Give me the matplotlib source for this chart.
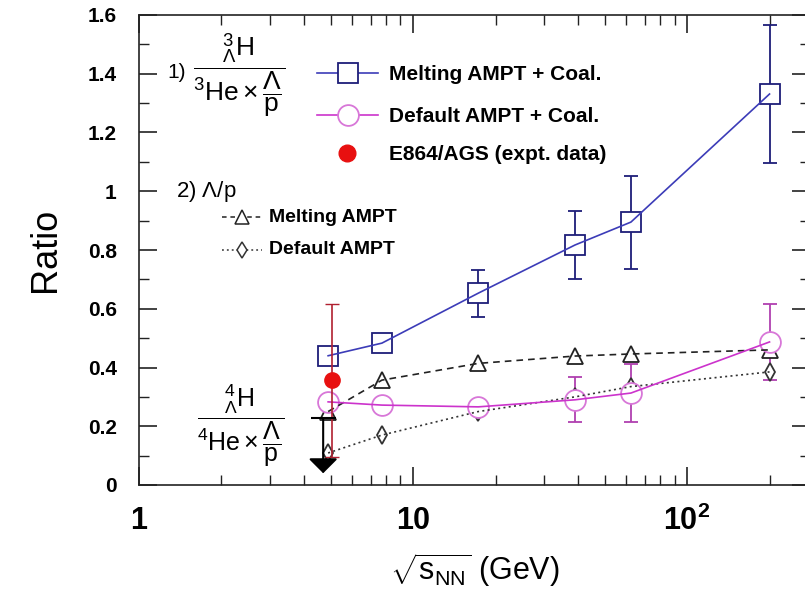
import numpy as np
import matplotlib
matplotlib.use('Agg')
import matplotlib.pyplot as plt
from matplotlib.ticker import FixedLocator, FuncFormatter, LogLocator, MultipleLocator

plt.rcParams['font.family'] = ['Liberation Sans', 'DejaVu Sans']
plt.rcParams['mathtext.fontset'] = 'custom'
plt.rcParams['mathtext.rm'] = 'Liberation Sans'
plt.rcParams['mathtext.it'] = 'Liberation Sans:italic'
plt.rcParams['mathtext.bf'] = 'Liberation Sans:bold'

# collision energies (GeV)
energy = [4.9, 7.7, 17.3, 39, 62.4, 200]

# 3ΛH / (3He x Λ/p)
melt_coal = [0.44, 0.483, 0.653, 0.817, 0.895, 1.331]
melt_coal_err = [0, 0, 0.08, 0.115, 0.158, 0.235]
def_coal = [0.283, 0.272, 0.266, 0.29, 0.313, 0.487]
def_coal_err = [0, 0, 0, 0.077, 0.10, 0.128]

# E864/AGS data point
e864_x = [5.08]
e864_y = [0.357]
e864_err = [0.26]

# 4ΛH upper limit
lim_x = [4.7]
lim_top = [0.228]
lim_bottom = [0.04]

# Λ/p
melt_lp = [0.25, 0.357, 0.414, 0.439, 0.446, 0.46]
def_lp = [0.109, 0.17, 0.25, 0.30, 0.335, 0.385]

blue_line = '#3c3cb8'
blue_mk = '#1e1e78'
mag_line = '#cc33cc'
mag_mk = '#d877d8'
red = '#e81010'

fig = plt.figure(figsize=(8.05, 5.89), dpi=100)
ax = fig.add_axes([139 / 805, 104 / 589, 671 / 805, 470 / 589])

x = np.array(energy)

def draw_series(y, err, line_col, mk_col, marker, ms, ls, bar_col=None):
    y = np.array(y)
    err = np.array(err)
    m = err > 0
    if m.any():
        ax.errorbar(x[m], y[m], yerr=err[m], fmt='none', ecolor=bar_col or mk_col,
                    elinewidth=1.3, capsize=5, capthick=1.3, zorder=2)
    ax.plot(x, y, linestyle='none', marker=marker, ms=ms, mfc='white',
            mec=mk_col, mew=1.3, zorder=3)
    ax.plot(x, y, color=line_col, ls=ls, lw=1.2, zorder=4)

# Λ/p curves
draw_series(melt_lp, [0] * 6, '#222222', '#222222', '^', 11, (0, (4, 3)))
draw_series(def_lp, [0] * 6, '#333333', '#333333', 'd', 9, (0, (1.2, 2)))

# coalescence
draw_series(def_coal, def_coal_err, mag_line, mag_mk, 'o', 15, '-', bar_col='#b040b0')
draw_series(melt_coal, melt_coal_err, blue_line, blue_mk, 's', 15, '-')

# E864 data
ax.errorbar(e864_x, e864_y, yerr=e864_err, fmt='o', color=red, ms=11,
            ecolor='#b02030', elinewidth=1.2, capsize=5, zorder=5)

# upper limit arrow
ax.annotate('', xy=(lim_x[0], lim_bottom[0]), xytext=(lim_x[0], lim_top[0]),
            arrowprops=dict(arrowstyle='-|>,head_width=0.45,head_length=0.45',
                            mutation_scale=20, color='black', lw=1.5,
                            shrinkA=0, shrinkB=0), zorder=6)
ax.plot(lim_x, lim_top, marker='_', ms=18, mew=1.5, color='black', zorder=6)

ax.set_xscale('log')
ax.set_xlim(1, 281)
ax.set_ylim(0, 1.6)

ax.xaxis.set_major_locator(FixedLocator([1, 10, 100]))
ax.xaxis.set_minor_locator(LogLocator(base=10, subs=np.arange(2, 10)))
ax.xaxis.set_major_formatter(FuncFormatter(
    lambda v, p: {1: '1', 10: '10', 100: r'$\mathbf{10^2}$'}.get(int(round(v)), '')))
ax.xaxis.set_minor_formatter(FuncFormatter(lambda v, p: ''))

ax.yaxis.set_major_locator(MultipleLocator(0.2))
ax.yaxis.set_minor_locator(MultipleLocator(0.1))
ax.yaxis.set_major_formatter(FuncFormatter(lambda v, p: f'{v:g}'))

ax.tick_params(which='both', direction='in', top=True, right=True, color='#222222')
ax.tick_params(which='major', length=13, width=1.2)
ax.tick_params(which='minor', length=7, width=1.0)
ax.tick_params(axis='y', which='major', labelsize=15, pad=16)
ax.tick_params(axis='x', which='major', labelsize=22, pad=15)
for lab in ax.get_xticklabels() + ax.get_yticklabels():
    lab.set_fontweight('bold')
for s in ax.spines.values():
    s.set_linewidth(1.2)
    s.set_color('#222222')

ax.set_ylabel('Ratio', fontsize=26, labelpad=18)
ax.set_xlabel(r'$\sqrt{\mathrm{s}_{\mathrm{NN}}}$ (GeV)', fontsize=22, labelpad=10)

# legend drawn by hand
T = ax.transAxes
ax.text(0.043, 0.877, '1)', transform=T, fontsize=15, va='center', ha='left')
ax.text(0.149, 0.872,
        r'$\dfrac{{}^{3}_{\Lambda}\mathrm{H}}{{}^{3}\mathrm{He}\times\dfrac{\Lambda}{\mathrm{p}}}$',
        transform=T, fontsize=19, va='center', ha='center')

ax.plot([0.266, 0.356], [0.877, 0.877], color=blue_line, lw=1.2, transform=T)
ax.plot([0.311], [0.877], marker='s', ms=15, mfc='white', mec=blue_mk, mew=1.3, transform=T)
ax.text(0.372, 0.874, 'Melting AMPT + Coal.', transform=T, fontsize=15,
        fontweight='bold', va='center')

ax.plot([0.266, 0.356], [0.787, 0.787], color=mag_line, lw=1.2, transform=T)
ax.plot([0.311], [0.787], marker='o', ms=15, mfc='white', mec=mag_mk, mew=1.3, transform=T)
ax.text(0.372, 0.785, 'Default AMPT + Coal.', transform=T, fontsize=15,
        fontweight='bold', va='center')

ax.plot([0.31], [0.706], marker='o', ms=12, color=red, transform=T)
ax.text(0.372, 0.704, 'E864/AGS (expt. data)', transform=T, fontsize=15,
        fontweight='bold', va='center')

ax.text(0.055, 0.625, r'2) $\Lambda$/p', transform=T, fontsize=16, va='center')

ax.plot([0.123, 0.183], [0.57, 0.57], color='#222222', lw=1.1, ls=(0, (3, 2.5)), transform=T)
ax.plot([0.153], [0.57], marker='^', ms=10, mfc='white', mec='#222222', mew=1.1, transform=T)
ax.text(0.193, 0.57, 'Melting AMPT', transform=T, fontsize=14, fontweight='bold', va='center')

ax.plot([0.123, 0.183], [0.50, 0.50], color='#333333', lw=1.1, ls=(0, (1.2, 2)), transform=T)
ax.plot([0.153], [0.50], marker='d', ms=8, mfc='white', mec='#333333', mew=1.1, transform=T)
ax.text(0.193, 0.50, 'Default AMPT', transform=T, fontsize=14, fontweight='bold', va='center')

ax.text(0.152, 0.125,
        r'$\dfrac{{}^{4}_{\Lambda}\mathrm{H}}{{}^{4}\mathrm{He}\times\dfrac{\Lambda}{\mathrm{p}}}$',
        transform=T, fontsize=18, va='center', ha='center')

fig.savefig('out.png', dpi=100)
